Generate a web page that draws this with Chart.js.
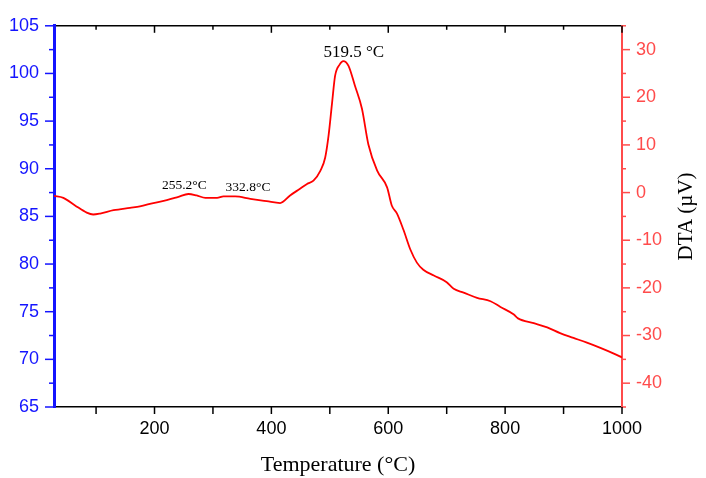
<!DOCTYPE html>
<html>
<head>
<meta charset="utf-8">
<script src="https://cdn.jsdelivr.net/npm/chart.js@4/dist/chart.umd.min.js"></script>
<style>
  html, body { margin: 0; padding: 0; background: #fff; }
  #wrap { width: 706px; height: 478px; }
</style>
</head>
<body>
<div id="wrap"><canvas id="c" width="706" height="478"></canvas></div>
<script>
// ---- data ----
const temperature = [28,44,64,84,95,107,130,158,175,198,221,241,258,272,287,307,318,338,364,392,415,432,449,461,472,484,492,498,504,509,517,523,532,543,555,566,581,598,606,615,626,638,649,660,678,700,712,729,752,775,792,815,822,849,872,894,917,940,963,986,1000];
const dta = [-0.7,-1.1,-2.7,-4.2,-4.6,-4.4,-3.7,-3.2,-2.9,-2.2,-1.6,-0.9,-0.3,-0.6,-1.1,-1.1,-0.8,-0.8,-1.3,-1.8,-2.2,-0.6,0.8,1.8,2.5,4.6,7.3,12.1,19.0,24.5,26.9,27.6,26.6,22.4,17.6,10.1,4.6,1.1,-2.7,-4.4,-7.8,-12.0,-14.7,-16.2,-17.4,-18.8,-20.2,-21.0,-22.1,-22.8,-24.0,-25.6,-26.4,-27.4,-28.3,-29.5,-30.5,-31.5,-32.6,-33.8,-34.6];

const xTicks = [100,200,300,400,500,600,700,800,900,1000];
const xLabels = [200,400,600,800,1000];
const leftTicks = [65,67.5,70,72.5,75,77.5,80,82.5,85,87.5,90,92.5,95,97.5,100,102.5,105];
const leftLabels = [65,70,75,80,85,90,95,100,105];
const rightTicks = [-45,-40,-35,-30,-25,-20,-15,-10,-5,0,5,10,15,20,25,30,35];
const rightLabels = [-40,-30,-20,-10,0,10,20,30];

const annotationTexts = ['519.5 \u00B0C', '255.2\u00B0C', '332.8\u00B0C'];
const annotationX = [541, 251, 360];
const annotationY = [28.5, 0.8, 0.4];

const BLUE = 'rgb(20,20,255)';
const RED_AX = 'rgb(255,75,75)';
const RED = 'rgb(255,0,0)';

const setTicks = (vals) => (scale) => { scale.ticks = vals.map(v => ({ value: v })); };
const labelIf = (vals) => (v) => vals.includes(v) ? String(v) : '';

const tickPlugin = {
  id: 'tickPlugin',
  afterDraw(chart) {
    const ctx = chart.ctx;
    const ca = chart.chartArea;
    const s = chart.scales;
    ctx.save();
    ctx.strokeStyle = BLUE; ctx.lineWidth = 1.5;
    s.y.ticks.forEach(t => {
      const py = s.y.getPixelForValue(t.value);
      const len = leftLabels.includes(t.value) ? 9 : 5;
      ctx.beginPath(); ctx.moveTo(ca.left, py); ctx.lineTo(ca.left - len, py); ctx.stroke();
    });
    ctx.strokeStyle = RED_AX; ctx.lineWidth = 1.5;
    s.y2.ticks.forEach(t => {
      const py = s.y2.getPixelForValue(t.value);
      const len = rightLabels.includes(t.value) ? 8 : 4;
      ctx.beginPath(); ctx.moveTo(ca.right, py); ctx.lineTo(ca.right + len, py); ctx.stroke();
    });
    ctx.strokeStyle = '#000'; ctx.lineWidth = 1.5;
    s.x.ticks.forEach(t => {
      const px = s.x.getPixelForValue(t.value);
      const major = xLabels.includes(t.value);
      ctx.beginPath(); ctx.moveTo(px, ca.bottom); ctx.lineTo(px, ca.bottom + 7); ctx.stroke();
      ctx.beginPath(); ctx.moveTo(px, ca.top); ctx.lineTo(px, ca.top + (major ? 7 : 4)); ctx.stroke();
    });
    ctx.fillStyle = '#000';
    ctx.font = '21px "Liberation Serif"';
    ctx.textAlign = 'center'; ctx.textBaseline = 'middle';
    ctx.translate(686, (ca.top + ca.bottom) / 2);
    ctx.rotate(-Math.PI / 2);
    ctx.fillText('DTA (\u00B5V)', 0, 0);
    ctx.restore();
    ctx.save();
    ctx.fillStyle = '#000';
    ctx.textAlign = 'center'; ctx.textBaseline = 'alphabetic';
    annotationTexts.forEach((txt, i) => {
      ctx.font = (i === 0 ? '17px' : '13.5px') + ' "Liberation Serif"';
      ctx.fillText(txt, s.x.getPixelForValue(annotationX[i]), s.y2.getPixelForValue(annotationY[i]));
    });
    ctx.restore();
  }
};

new Chart(document.getElementById('c'), {
  type: 'line',
  data: {
    datasets: [{
      data: temperature.map((t, i) => ({ x: t, y: dta[i] })),
      yAxisID: 'y2',
      xAxisID: 'x',
      borderColor: RED,
      borderWidth: 1.8,
      pointRadius: 0,
      fill: false,
      cubicInterpolationMode: 'monotone'
    }]
  },
  options: {
    responsive: false,
    animation: false,
    devicePixelRatio: 1,
    layout: { padding: { top: 19, left: 0, right: 0, bottom: 0 } },
    plugins: { legend: { display: false }, tooltip: { enabled: false } },
    scales: {
      x: {
        type: 'linear', position: 'bottom', min: 28, max: 1000,
        afterBuildTicks: setTicks(xTicks),
        afterFit: (sc) => { sc.height = 71; },
        grid: { display: false, drawTicks: false },
        border: { display: true, color: '#000', width: 1.5 },
        ticks: { callback: labelIf(xLabels), padding: 11, maxRotation: 0, autoSkip: false,
                 color: '#000', font: { family: 'Liberation Sans', size: 18 } },
        title: { display: true, text: 'Temperature (\u00B0C)', color: '#000',
                 font: { family: 'Liberation Serif', size: 22 }, padding: { top: 6, bottom: 0 } }
      },
      x2: {
        type: 'linear', position: 'top', min: 28, max: 1000,
        afterFit: (sc) => { sc.height = 0; },
        grid: { display: false, drawTicks: false },
        border: { display: true, color: '#000', width: 1.5 },
        ticks: { display: false }
      },
      y: {
        type: 'linear', position: 'left', min: 65, max: 105,
        afterBuildTicks: setTicks(leftTicks),
        afterFit: (sc) => { sc.width = 54; },
        grid: { display: false, drawTicks: false },
        border: { display: true, color: BLUE, width: 3 },
        ticks: { callback: labelIf(leftLabels), padding: 15, autoSkip: false,
                 color: BLUE, font: { family: 'Liberation Sans', size: 18 } }
      },
      y2: {
        type: 'linear', position: 'right', min: -45, max: 35,
        afterBuildTicks: setTicks(rightTicks),
        afterFit: (sc) => { sc.width = 84; },
        grid: { display: false, drawTicks: false },
        border: { display: true, color: RED_AX, width: 2 },
        ticks: { callback: labelIf(rightLabels), padding: 14, autoSkip: false,
                 color: RED_AX, font: { family: 'Liberation Sans', size: 18 } }
      }
    }
  },
  plugins: [tickPlugin]
});
</script>
</body>
</html>
